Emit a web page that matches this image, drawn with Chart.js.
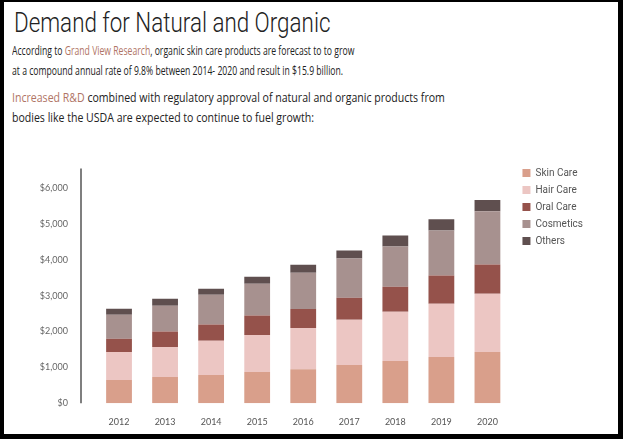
<!DOCTYPE html>
<html>
<head>
<meta charset="utf-8">
<script src="https://cdn.jsdelivr.net/npm/chart.js@4"></script>
<style>
  html, body { margin: 0; padding: 0; background: #000; }
  body { width: 623px; height: 439px; position: relative; overflow: hidden; }
  #page { position: absolute; left: 4px; top: 2px; width: 614px; height: 432px; background: #fff; }
  h1 {
    position: absolute; left: 10px; top: 4px; margin: 0;
    font: 300 28px Roboto, sans-serif; color: #222; white-space: nowrap;
    transform: scaleX(0.8); transform-origin: left top;
  }
  p {
    position: absolute; left: 8px; margin: 0;
    font: 12px "Open Sans", sans-serif; color: #222; line-height: 20px; white-space: nowrap;
    transform-origin: left top;
  }
  p a { color: #b07465; text-decoration: none; }
  #p1 { top: 39px; transform: scaleX(0.72); }
  #p2 { top: 86px; transform: scaleX(0.88); }
  #chart { position: absolute; left: 0; top: 135px; }
</style>
</head>
<body>
<div id="page">
  <h1>Demand for Natural and Organic</h1>
  <p id="p1">According to <a>Grand View Research</a>, organic skin care products are forecast to to grow<br>at a compound annual rate of 9.8% between 2014- 2020 and result in $15.9 billion.</p>
  <p id="p2"><a>Increased R&amp;D</a> combined with regulatory approval of natural and organic products from<br>bodies like the USDA are expected to continue to fuel growth:</p>
</div>
<canvas id="chart" width="618" height="310"></canvas>
<script>
const years = ['2012', '2013', '2014', '2015', '2016', '2017', '2018', '2019', '2020'];
const skinCare = [645, 730, 785, 870, 950, 1065, 1175, 1290, 1430];
const hairCare = [785, 840, 955, 1035, 1150, 1260, 1375, 1485, 1625];
const oralCare = [365, 430, 455, 540, 530, 615, 700, 785, 815];
const cosmetics = [670, 720, 830, 890, 1010, 1095, 1120, 1260, 1485];
const others = [170, 195, 170, 195, 225, 225, 310, 310, 310];
const yTicks = [0, 1000, 2000, 3000, 4000, 5000, 6000];

// vertical axis line sits a little left of the first bar
const yLine = {
    id: 'yLine',
    afterDraw(chart) {
        const {ctx, chartArea, scales} = chart;
        const x = chartArea.left - 15;
        ctx.save();
        ctx.strokeStyle = '#555';
        ctx.lineWidth = 1.5;
        ctx.beginPath();
        ctx.moveTo(x, chartArea.top);
        ctx.lineTo(x, scales.y.getPixelForValue(0));
        ctx.stroke();
        ctx.restore();
    }
};

// nudge the legend block
const legendShift = {
    id: 'legendShift',
    afterLayout(chart) {
        chart.legend.left += 5;
        chart.legend.top += 8;
    }
};

const ctx = document.querySelector('#chart').getContext('2d');
new Chart(ctx, {
    type: 'bar',
    data: {
        labels: years,
        datasets: [
            {label: 'Skin Care', data: skinCare, backgroundColor: '#d99f8b'},
            {label: 'Hair Care', data: hairCare, backgroundColor: '#ecc6c3'},
            {label: 'Oral Care', data: oralCare, backgroundColor: '#95524b'},
            {label: 'Cosmetics', data: cosmetics, backgroundColor: '#a7918f'},
            {label: 'Others', data: others, backgroundColor: '#5f4f4f'}
        ]
    },
    options: {
        responsive: false,
        animation: false,
        layout: {padding: {top: 18, bottom: 5, right: 30}},
        datasets: {bar: {barPercentage: 0.56, categoryPercentage: 1}},
        scales: {
            x: {
                stacked: true,
                grid: {display: false, drawTicks: false},
                border: {display: false},
                ticks: {color: '#555', font: {family: 'Lato', size: 9}, padding: 13}
            },
            y: {
                stacked: true,
                min: 0,
                max: 6550,
                grid: {display: false, drawTicks: false},
                border: {display: false},
                afterFit(scale) { scale.width = 96; },
                afterBuildTicks(scale) { scale.ticks = yTicks.map(v => ({value: v})); },
                ticks: {
                    color: '#666',
                    font: {family: 'Lato', size: 9},
                    padding: 28,
                    callback: v => '$' + v.toLocaleString('en-US')
                }
            }
        },
        plugins: {
            tooltip: {enabled: false},
            legend: {
                position: 'right',
                align: 'start',
                labels: {
                    boxWidth: 8,
                    boxHeight: 8,
                    padding: 7,
                    color: '#555',
                    font: {family: 'Roboto', size: 10}
                }
            }
        }
    },
    plugins: [yLine, legendShift]
});
</script>
</body>
</html>
